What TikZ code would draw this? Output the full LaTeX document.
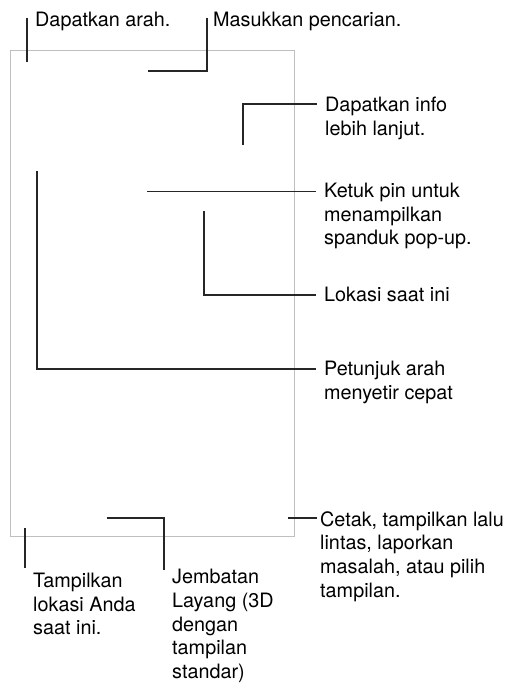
\documentclass[tikz,border=0pt]{standalone}
\usepackage{fontspec}
\setmainfont{TeX Gyre Heros}
\usetikzlibrary{calc}

\begin{document}
\begin{tikzpicture}[x=1pt, y=-1pt,
  lbl/.style={anchor=base west, inner sep=0pt, align=left,
    font=\fontsize{19.8}{23.7}\selectfont},
  lead/.style={draw=black!85, line width=1.2pt},
  frame/.style={draw=black!25, line width=1pt}]
  \useasboundingbox (0,0) rectangle (511,683);

  % Frame
  \draw[frame] (10.5,50) rectangle (294,536);

  % Labels (placed at the baseline of their last line)
  \node[lbl] (arah) at (35,26.7) {Dapatkan arah.};
  \node[lbl] (cari) at (213,26.7) {Masukkan pencarian.};
  \node[lbl] (info) at (325,135.2) {Dapatkan info\\lebih lanjut.};
  \node[lbl] (ketuk) at (324,244.7) {Ketuk pin untuk\\menampilkan\\spanduk pop-up.};
  \node[lbl] (lokasi) at (324,301.5) {Lokasi saat ini};
  \node[lbl] (petunjuk) at (324,399.2) {Petunjuk arah\\menyetir cepat};
  \node[lbl] (cetak) at (320,597.1) {Cetak, tampilkan lalu\\lintas, laporkan\\masalah, atau pilih\\tampilan.};
  \node[lbl] (tampil) at (33,634.7) {Tampilkan\\lokasi Anda\\saat ini.};
  \node[lbl] (jembatan) at (172,678.6) {Jembatan\\Layang (3D\\dengan\\tampilan\\standar)};

  % Leader ends
  \coordinate (arah-in) at ($(arah.base west)+(-8,-8.7)$);
  \coordinate (cari-in) at ($(cari.base west)+(-6,-8.7)$);
  \coordinate (info-in) at ($(info.base west)+(-8,-31.2)$);
  \coordinate (ketuk-in) at ($(ketuk.base west)+(-8,-53)$);
  \coordinate (lokasi-in) at ($(lokasi.base west)+(-8,-6.5)$);
  \coordinate (petunjuk-in) at ($(petunjuk.base west)+(-8,-30.2)$);
  \coordinate (cetak-in) at ($(cetak.base west)+(-3,-79.1)$);
  \coordinate (tampil-in) at ($(tampil.base west)+(-8,-66.7)$);
  \coordinate (jembatan-in) at ($(jembatan.base west)+(-8,-108.6)$);

  % Leader tips on the map
  \coordinate (arah-tip) at (27,62);
  \coordinate (cari-tip) at (148,71);
  \coordinate (info-tip) at (243,145);
  \coordinate (ketuk-tip) at (147,191.7);
  \coordinate (lokasi-tip) at (204,211);
  \coordinate (petunjuk-tip) at (37,171);
  \coordinate (cetak-tip) at (288,518);
  \coordinate (tampil-tip) at (25,528);
  \coordinate (jembatan-tip) at (107,518);

  % Leaders
  \draw[lead] (arah-tip) -- (arah-in);
  \draw[lead] (cari-tip) -| (cari-in);
  \draw[lead] (info-tip) |- (info-in);
  \draw[lead] (ketuk-tip) -- (ketuk-in);
  \draw[lead] (lokasi-tip) |- (lokasi-in);
  \draw[lead] (petunjuk-tip) |- (petunjuk-in);
  \draw[lead] (cetak-tip) -- (cetak-in);
  \draw[lead] (tampil-tip) -- (tampil-in);
  \draw[lead] (jembatan-tip) -| (jembatan-in);
\end{tikzpicture}
\end{document}
